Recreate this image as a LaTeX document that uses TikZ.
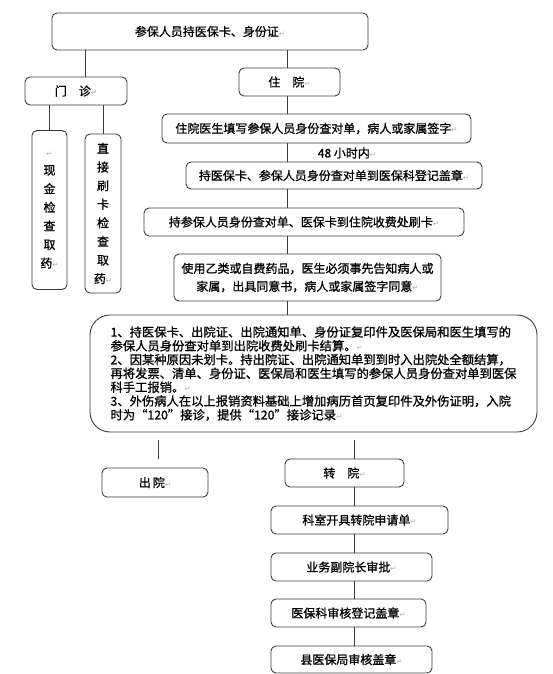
\documentclass[tikz,border=0pt]{standalone}
\usepackage{fontspec}
\usepackage{xcolor}
\setmainfont{Noto Sans CJK SC}[RawFeature={embolden=1}]
\newfontfamily\symfont{DejaVu Sans}
\newcommand{\retmark}{{\symfont\color{gray!60}\fontsize{7.5}{7.5}\selectfont ↵}}

\begin{document}
\begin{tikzpicture}[x=1pt, y=-1pt,
    box/.style={draw=boxgray, line width=0.9pt, rounded corners=5pt, inner sep=0pt,
        font=\fontsize{12}{14}\selectfont, align=center},
    tallbox/.style={box, minimum width=36, minimum height=159, font=\fontsize{12}{18.6}\selectfont},
    link/.style={draw=boxgray, line width=0.9pt}]
    % Define a dark grey for outlines and lines
    \definecolor{boxgray}{RGB}{60,60,60}

    % Page frame
    \useasboundingbox (0,0) rectangle (552,674);

    % Columns of the vertical lines
    \coordinate (spine) at (287,0);
    \coordinate (mzline) at (85,0);
    \coordinate (xjline) at (49,0);
    \coordinate (zjline) at (103,0);
    \coordinate (cyline) at (158,0);
    \coordinate (zyline) at (354,0);

    % Top box
    \node[box, minimum width=316, minimum height=37] (top) at (210,31.5) {参保人员持医保卡、身份证\retmark};

    % Outpatient branch
    \node[box, minimum width=102, minimum height=28] (menzhen) at (76,91) {门\quad 诊\retmark};
    \node[tallbox, minimum width=35] (xianjin) at (49.5,210) {\retmark\\现\\金\\检\\查\\取\\药\retmark};
    \node[tallbox] (zhijie) at (103,213.5) {直\\接\\刷\\卡\\检\\查\\取\\药\retmark};

    % Inpatient branch
    \node[box, minimum width=101, minimum height=28] (zhuyuan) at (289.5,82) {住\quad 院\retmark};
    \node[box, minimum width=309, minimum height=29] (sign) at (316.5,128.5) {住院医生填写参保人员身份查对单，病人或家属签字\retmark};
    \node[font=\fontsize{12}{14}\selectfont, inner sep=0pt] (within) at (347,153) {48 小时内\retmark};
    \node[box, minimum width=296, minimum height=27] (stamp) at (334,175.5) {持医保卡、参保人员身份查对单到医保科登记盖章\retmark};
    \node[box, minimum width=320, minimum height=28] (swipe) at (304,222) {持参保人员身份查对单、医保卡到住院收费处刷卡\retmark};
    \node[box, minimum width=267, minimum height=47, font=\fontsize{12}{18}\selectfont] (drugs) at (307.5,277.5)
        {使用乙类或自费药品，医生必须事先告知病人或\\家属，出具同意书，病人或家属签字同意\retmark};

    % Settlement box
    \node[box, rounded corners=20pt, minimum width=447, minimum height=117, align=left,
        font=\fontsize{12.3}{13.8}\selectfont] (settle) at (313.5,373.5)
        {1、持医保卡、出院证、出院通知单、身份证复印件及医保局和医生填写的\\
         参保人员身份查对单到出院收费处刷卡结算。\retmark\\
         2、因某种原因未划卡。持出院证、出院通知单到到时入出院处全额结算，\\
         再将发票、清单、身份证、医保局和医生填写的参保人员身份查对单到医保\\
         科手工报销。\retmark\\
         3、外伤病人在以上报销资料基础上增加病历首页复印件及外伤证明，入院\\
         时为“120”接诊，提供“120”接诊记录\retmark};

    % Discharge and transfer
    \node[box, minimum width=106, minimum height=29] (chuyuan) at (155,482.5) {出\,院\retmark};
    \node[box, minimum width=119, minimum height=28] (zhuanyuan) at (344.5,473) {转\quad 院\retmark};
    \node[box, minimum width=177, minimum height=28] (apply) at (359.5,520) {科室开具转院申请单\retmark};
    \node[box, minimum width=161, minimum height=28] (approve) at (351.5,567) {业务副院长审批\retmark};
    \node[box, minimum width=155, minimum height=28] (check) at (348.5,613) {医保科审核登记盖章\retmark};
    \node[box, minimum width=161, minimum height=27] (county) at (351.5,659.5) {县医保局审核盖章\retmark};

    % Lines from the top box
    \draw[link] (top.south -| mzline) -- (menzhen.north -| mzline);
    \draw[link] (top.south -| spine) -- (zhuyuan.north -| spine);

    % Lines below the outpatient box
    \draw[link] (menzhen.south -| xjline) -- (xianjin.north -| xjline);
    \draw[link] (menzhen.south -| zjline) -- (zhijie.north -| zjline);

    % Inpatient spine
    \draw[link] (zhuyuan.south -| spine) -- (sign.north -| spine);
    \draw[link] (sign.south -| spine) -- (stamp.north -| spine);
    \draw[link] (stamp.south -| spine) -- (swipe.north -| spine);
    \draw[link] (swipe.south -| spine) -- (drugs.north -| spine);
    \draw[link] (drugs.south -| spine) -- (settle.north -| spine);

    % Lines below the settlement box (left one floats free)
    \draw[link] ([yshift=-8pt]settle.south -| cyline) -- ([yshift=9pt]chuyuan.north -| cyline);
    \draw[link] ([yshift=-8pt]settle.south -| zyline) -- (zhuanyuan.north -| zyline);

    % Transfer chain
    \draw[link] (zhuanyuan.south -| zyline) -- (apply.north -| zyline);
    \draw[link] (apply.south -| zyline) -- (approve.north -| zyline);
    \draw[link] (approve.south -| zyline) -- (check.north -| zyline);
    \draw[link] (check.south -| zyline) -- (county.north -| zyline);

\end{tikzpicture}
\end{document}
